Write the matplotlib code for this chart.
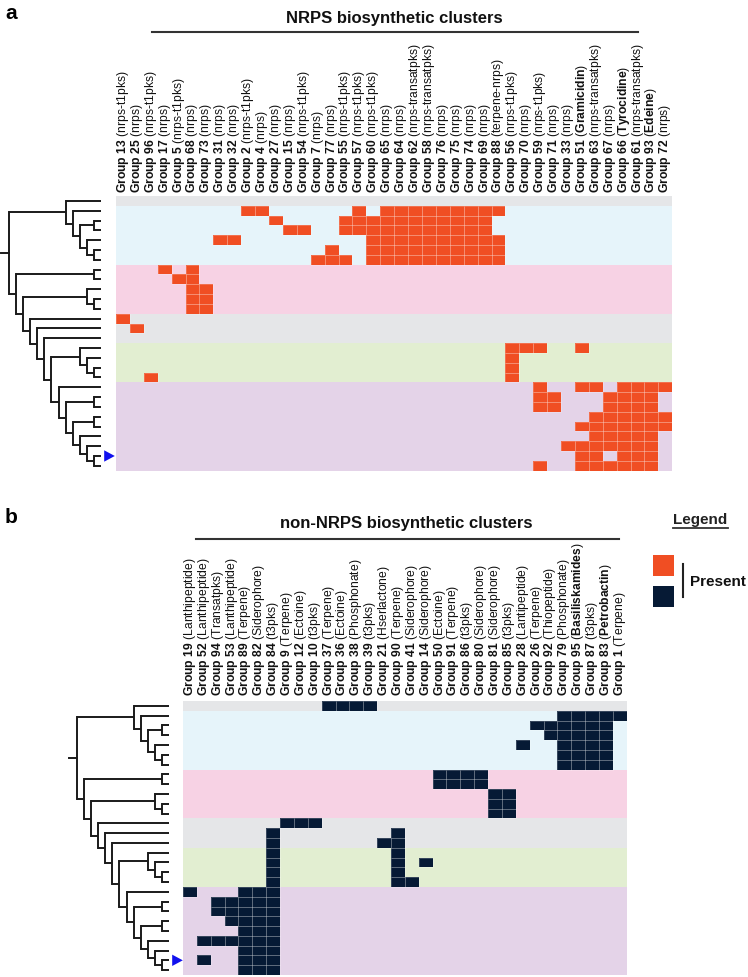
import matplotlib
matplotlib.use('Agg')
import matplotlib.pyplot as plt
import numpy as np
from matplotlib.colors import ListedColormap, BoundaryNorm
from matplotlib.patches import Polygon, Rectangle
from matplotlib.lines import Line2D

plt.rcParams['font.family'] = ['Liberation Sans', 'DejaVu Sans']
plt.rcParams['mathtext.fontset'] = 'custom'
plt.rcParams['mathtext.rm'] = 'Liberation Sans'
plt.rcParams['mathtext.bf'] = 'Liberation Sans:bold'
plt.rcParams['mathtext.it'] = 'Liberation Sans:italic'

# ---------------- data ----------------
nrps_groups = [13, 25, 96, 17, 5, 68, 73, 31, 32, 2, 4, 27, 15, 54, 7, 77, 55, 57, 60, 65,
               64, 62, 58, 76, 75, 74, 69, 88, 56, 70, 59, 71, 33, 51, 63, 67, 66, 61, 93, 72]
nrps_types = ['nrps-t1pks', 'nrps', 'nrps-t1pks', 'nrps', 'nrps-t1pks', 'nrps', 'nrps', 'nrps',
              'nrps', 'nrps-t1pks', 'nrps', 'nrps', 'nrps', 'nrps-t1pks', 'nrps', 'nrps',
              'nrps-t1pks', 'nrps-t1pks', 'nrps-t1pks', 'nrps', 'nrps', 'nrps-transatpks',
              'nrps-transatpks', 'nrps', 'nrps', 'nrps', 'nrps', 'terpene-nrps', 'nrps-t1pks',
              'nrps', 'nrps-t1pks', 'nrps', 'nrps', 'Gramicidin', 'nrps-transatpks', 'nrps',
              'Tyrocidine', 'nrps-transatpks', 'Edeine', 'nrps']
nrps_known = ['Gramicidin', 'Tyrocidine', 'Edeine']

other_groups = [19, 52, 94, 53, 89, 82, 84, 9, 12, 10, 37, 36, 38, 39, 21, 90, 41, 14, 50, 91,
                86, 80, 81, 85, 28, 26, 92, 79, 95, 87, 83, 1]
other_types = ['Lanthipeptide', 'Lanthipeptide', 'Transatpks', 'Lanthipeptide', 'Terpene',
               'Siderophore', 't3pks', 'Terpene', 'Ectoine', 't3pks', 'Terpene', 'Ectoine',
               'Phosphonate', 't3pks', 'Hserlactone', 'Terpene', 'Siderophore', 'Siderophore',
               'Ectoine', 'Terpene', 't3pks', 'Siderophore', 'Siderophore', 't3pks',
               'Lantipeptide', 'Terpene', 'Thiopeptide', 'Phosphonate', 'Basiliskamides',
               't3pks', 'Petrobactin', 'Terpene']
other_known = ['Basiliskamides', 'Petrobactin']

# presence (column indices) per strain row, top to bottom
nrps_hits = [
    [],
    [9, 10, 17, 19, 20, 21, 22, 23, 24, 25, 26, 27],
    [11, 16, 17, 18, 19, 20, 21, 22, 23, 24, 25, 26],
    [12, 13, 16, 17, 18, 19, 20, 21, 22, 23, 24, 25, 26],
    [7, 8, 18, 19, 20, 21, 22, 23, 24, 25, 26, 27],
    [15, 18, 19, 20, 21, 22, 23, 24, 25, 26, 27],
    [14, 15, 16, 18, 19, 20, 21, 22, 23, 24, 25, 26, 27],
    [3, 5],
    [4, 5],
    [5, 6],
    [5, 6],
    [5, 6],
    [0],
    [1],
    [],
    [28, 29, 30, 33],
    [28],
    [28],
    [2, 28],
    [30, 33, 34, 36, 37, 38, 39],
    [30, 31, 35, 36, 37, 38],
    [30, 31, 35, 36, 37, 38],
    [34, 35, 36, 37, 38, 39],
    [33, 34, 35, 36, 37, 38, 39],
    [34, 35, 36, 37, 38],
    [32, 33, 34, 35, 36, 37, 38],
    [33, 34, 36, 37, 38],
    [30, 33, 34, 35, 36, 37, 38],
]

other_hits = [
    [10, 11, 12, 13],
    [27, 28, 29, 30, 31],
    [25, 26, 27, 28, 29, 30],
    [26, 27, 28, 29, 30],
    [24, 27, 28, 29, 30],
    [27, 28, 29, 30],
    [27, 28, 29, 30],
    [18, 19, 20, 21],
    [18, 19, 20, 21],
    [22, 23],
    [22, 23],
    [22, 23],
    [7, 8, 9],
    [6, 15],
    [6, 14, 15],
    [6, 15],
    [6, 15, 17],
    [6, 15],
    [6, 15, 16],
    [0, 4, 5, 6],
    [2, 3, 4, 5, 6],
    [2, 3, 4, 5, 6],
    [3, 4, 5, 6],
    [4, 5, 6],
    [1, 2, 3, 4, 5, 6],
    [4, 5, 6],
    [1, 4, 5, 6],
    [4, 5, 6],
]

# clade bands (rows per clade) and their colour index
clade_sizes = [1, 6, 5, 3, 4, 9]
clade_color_idx = [0, 1, 2, 0, 3, 4]
band_colors = ['#e5e6e8', '#e6f4fa', '#f7d2e4', '#e2eed1', '#e4d3e8']

# strain tree (leaf = row index)
clade_top = (0, (1, ((2, 3), (4, (5, 6)))))
clade_green = (15, (16, (17, 18)))
clade_purple = (19, ((20, 21), ((22, 23), (24, (25, (26, 27))))))
clade_low = ((7, 8), ((9, (10, 11)), (12, (13, (14, (clade_green, clade_purple))))))
tree = (clade_top, clade_low)
highlight_row = 26

RED = '#f04e23'
NAVY = '#061a35'
W, H = 748, 977

fig = plt.figure(figsize=(W / 100, H / 100), dpi=100)


def fig_ax(x0, y0, x1, y1):
    return fig.add_axes([x0 / W, 1 - y1 / H, (x1 - x0) / W, (y1 - y0) / H])


def px(x, y):
    return x / W, 1 - y / H


nrows = sum(clade_sizes)
row_band = np.repeat(clade_color_idx, clade_sizes)


def heatmap(ax, hits, ncol, present_color):
    codes = np.tile(row_band[:, None], (1, ncol)).astype(float)
    for r, cols in enumerate(hits):
        for c in cols:
            codes[r, c] = len(band_colors)
    cmap = ListedColormap(band_colors + [present_color])
    norm = BoundaryNorm(np.arange(-0.5, len(band_colors) + 1.5), cmap.N)
    ax.pcolormesh(np.arange(ncol + 1), np.arange(nrows + 1), codes, cmap=cmap, norm=norm)
    for r, cols in enumerate(hits):
        for c in cols:
            ax.add_patch(Rectangle((c, r), 1, 1, fill=False, lw=0.4,
                                   ec=(1, 1, 1, 0.35)))
    ax.set_xlim(0, ncol)
    ax.set_ylim(nrows, 0)
    ax.axis('off')


def col_labels(ax, groups, types, known, gap):
    for i, (g, t) in enumerate(zip(groups, types)):
        if t in known:
            s = r'$\mathbf{Group\ %d}$ ($\mathbf{%s}$)' % (g, t)
        else:
            s = r'$\mathbf{Group\ %d}$ (%s)' % (g, t)
        ax.annotate(s, xy=(i + 0.5, 0), xycoords='data', xytext=(0, gap),
                    textcoords='offset points', rotation=90, ha='center', va='bottom',
                    fontsize=8.75, color='#111111', annotation_clip=False)


def draw_tree(ax, node):
    if isinstance(node, int):
        return 0.0, node + 0.5, 0
    kids = [draw_tree(ax, k) for k in node]
    h = 1 + max(k[2] for k in kids)
    x = -float(h)
    ys = [k[1] for k in kids]
    ax.plot([x, x], [min(ys), max(ys)], color='#1a1a1a', lw=1.4, solid_capstyle='projecting')
    for kx, ky, kh in kids:
        ax.plot([x, kx], [ky, ky], color='#1a1a1a', lw=1.4, solid_capstyle='butt')
    return x, float(np.mean(ys)), h


def dendro(ax, xlim):
    rx, ry, rh = draw_tree(ax, tree)
    ax.plot([rx - 1.15, rx], [ry, ry], color='#1a1a1a', lw=1.4)
    yc = highlight_row + 0.5
    ax.add_patch(Polygon([[0.45, yc - 0.58], [0.45, yc + 0.58], [1.95, yc]],
                         closed=True, color='#1111ee', lw=0))
    ax.set_xlim(*xlim)
    ax.set_ylim(nrows, 0)
    ax.axis('off')


# ---------------- panel a ----------------
ax_a = fig_ax(116, 196, 672.3, 470.7)
heatmap(ax_a, nrps_hits, len(nrps_groups), RED)
col_labels(ax_a, nrps_groups, nrps_types, nrps_known, 2.3)
ax_ta = fig_ax(0, 196, 116, 470.7)
dendro(ax_ta, (-101 / 7.08, 15 / 7.08))

# ---------------- panel b ----------------
ax_b = fig_ax(183, 701, 626.7, 975)
heatmap(ax_b, other_hits, len(other_groups), NAVY)
col_labels(ax_b, other_groups, other_types, other_known, 3.3)
ax_tb = fig_ax(60, 701, 183, 975)
dendro(ax_tb, ((60 - 169) / 7.08, 14 / 7.08))

# ---------------- annotations ----------------
fig.text(*px(5, 4), 'a', fontsize=15, fontweight='bold', va='top', ha='left')
fig.text(*px(5, 508), 'b', fontsize=15, fontweight='bold', va='top', ha='left')

fig.text(*px(394, 22.7), 'NRPS biosynthetic clusters', fontsize=12, fontweight='bold',
         ha='center', va='baseline', color='#111111')
fig.add_artist(Line2D([152 / W, 638 / W], [1 - 32.3 / H, 1 - 32.3 / H], color='#333333', lw=1.5))

fig.text(*px(406, 528), 'non-NRPS biosynthetic clusters', fontsize=12, fontweight='bold',
         ha='center', va='baseline', color='#111111')
fig.add_artist(Line2D([196 / W, 619 / W], [1 - 539 / H, 1 - 539 / H], color='#333333', lw=1.5))

# legend
fig.text(*px(700, 524), 'Legend', fontsize=11, fontweight='bold', ha='center', va='baseline',
         color='#222222')
fig.add_artist(Line2D([673 / W, 728 / W], [1 - 528 / H, 1 - 528 / H], color='#333333', lw=1.3))
fig.add_artist(Rectangle(px(653, 576), 21 / W, 21 / H, transform=fig.transFigure,
                         color=RED, lw=0))
fig.add_artist(Rectangle(px(653, 607), 21 / W, 21 / H, transform=fig.transFigure,
                         color=NAVY, lw=0))
fig.add_artist(Line2D([683 / W, 683 / W], [1 - 564 / H, 1 - 597 / H], color='#222222', lw=1.5))
fig.text(*px(690, 586), 'Present', fontsize=11, fontweight='bold', ha='left', va='baseline',
         color='#111111')

fig.savefig('out.png', dpi=100)
